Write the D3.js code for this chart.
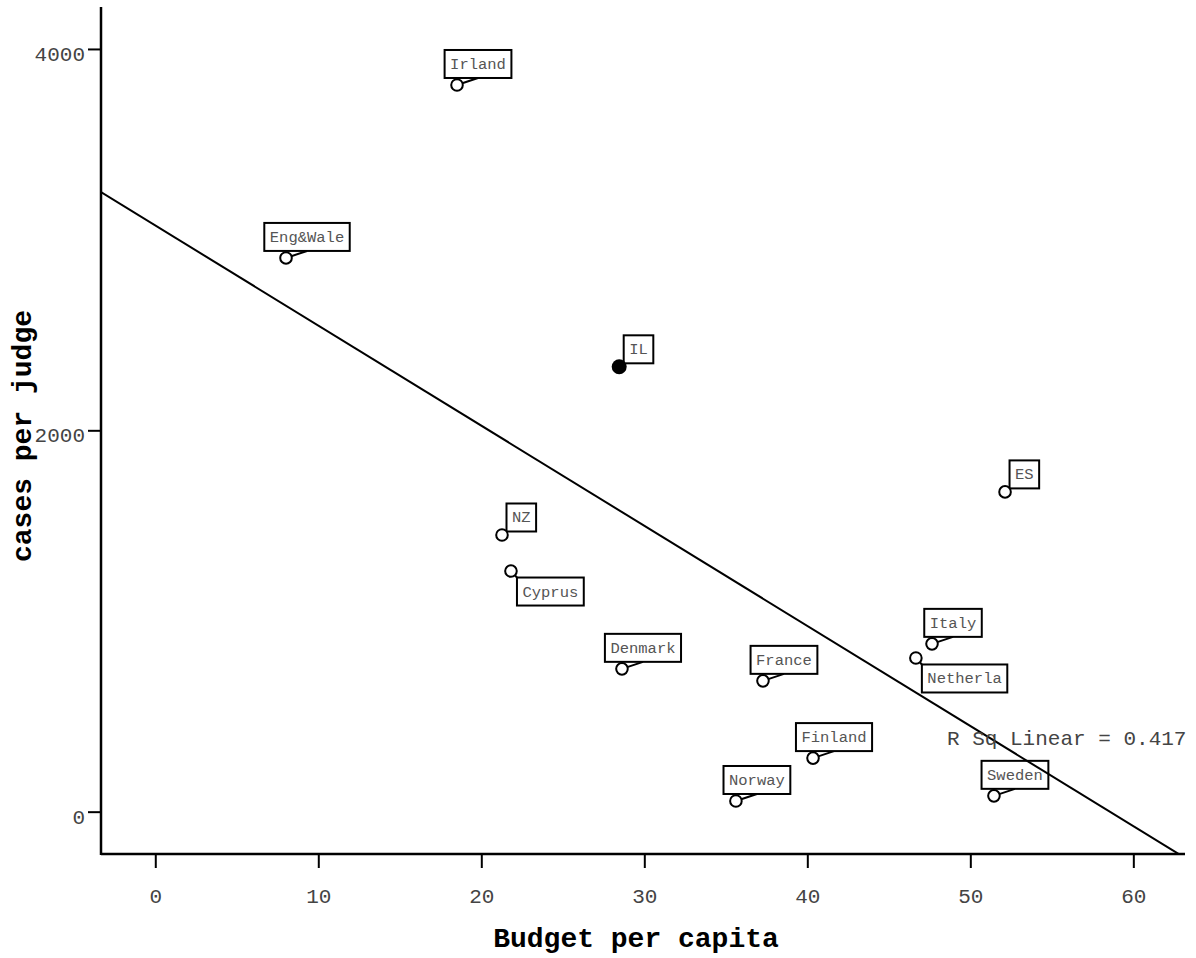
<!DOCTYPE html>
<html>
<head>
<meta charset="utf-8">
<script src="https://cdn.jsdelivr.net/npm/d3@7"></script>
<style>
  html, body { margin: 0; padding: 0; background: #fff; }
  svg { display: block; }
</style>
</head>
<body>
<svg id="chart" width="1196" height="958"></svg>
<script>
// ---- data ----
const countries = ["Irland", "Eng&Wale", "IL", "ES", "NZ", "Cyprus", "Denmark", "France", "Italy", "Netherla", "Finland", "Norway", "Sweden"];
const budgetPerCapita = [18.51, 8.02, 28.46, 52.13, 21.27, 21.82, 28.63, 37.28, 47.65, 46.66, 40.35, 35.62, 51.45];
const casesPerJudge = [3811, 2904, 2333, 1677, 1451, 1262, 749, 686, 880, 806, 281, 56, 83];
const highlighted = ["IL"];
const xTicks = [0, 10, 20, 30, 40, 50, 60];
const yTicks = [0, 2000, 4000];
const xTitle = "Budget per capita";
const yTitle = "cases per judge";
const rSqText = "R Sq Linear = 0.417";

// label placement (layout only)
const labelPlacement = {
  "Irland": "top", "Eng&Wale": "top", "IL": "upright", "ES": "upright", "NZ": "upright",
  "Cyprus": "downright", "Denmark": "top", "France": "top", "Italy": "top",
  "Netherla": "downright", "Finland": "top", "Norway": "top", "Sweden": "top"
};

const svg = d3.select("#chart");
const plotL = 101, plotR = 1185, plotT = 7, plotB = 854;

const x = d3.scaleLinear().domain([-3.33, 63.17]).range([plotL, plotR]);
const y = d3.scaleLinear().domain([-222, 4220]).range([plotB, plotT]);

const mono = "'Liberation Mono', 'Courier New', monospace";

// clip
svg.append("defs").append("clipPath").attr("id", "plotclip")
  .append("rect").attr("x", plotL).attr("y", plotT).attr("width", plotR - plotL).attr("height", plotB - plotT);

// axes
const xAxis = svg.append("g").attr("transform", `translate(0,${plotB})`)
  .call(d3.axisBottom(x).tickValues(xTicks).tickSize(14).tickSizeOuter(0).tickPadding(20).tickFormat(d3.format("d")));
const yAxis = svg.append("g").attr("transform", `translate(${plotL},0)`)
  .call(d3.axisLeft(y).tickValues(yTicks).tickSize(13).tickSizeOuter(0).tickPadding(3).tickFormat(d3.format("d")));

[xAxis, yAxis].forEach(g => {
  g.select(".domain").remove();
  g.selectAll(".tick line").attr("stroke", "#000").attr("stroke-width", 2);
  g.selectAll(".tick text").attr("font-family", mono).attr("font-size", 21).attr("fill", "#444");
});
yAxis.selectAll(".tick text").attr("dy", "0.55em");

svg.append("line").attr("x1", plotL).attr("x2", plotR).attr("y1", plotB).attr("y2", plotB)
  .attr("stroke", "#000").attr("stroke-width", 2.5);
svg.append("line").attr("x1", plotL).attr("x2", plotL).attr("y1", plotT).attr("y2", plotB + 1)
  .attr("stroke", "#000").attr("stroke-width", 2.5);

// axis titles
svg.append("text").attr("x", 636).attr("y", 947).attr("text-anchor", "middle")
  .attr("font-family", mono).attr("font-weight", "bold").attr("font-size", 28).attr("fill", "#000")
  .text(xTitle);
svg.append("text").attr("transform", "translate(31,436) rotate(-90)").attr("text-anchor", "middle")
  .attr("font-family", mono).attr("font-weight", "bold").attr("font-size", 28).attr("fill", "#000")
  .text(yTitle);

// points data
const pts = countries.map((c, i) => ({ name: c, bx: budgetPerCapita[i], cy: casesPerJudge[i] }));

// OLS fit
const mx = d3.mean(pts, d => d.bx), my = d3.mean(pts, d => d.cy);
const sxy = d3.sum(pts, d => (d.bx - mx) * (d.cy - my));
const sxx = d3.sum(pts, d => (d.bx - mx) ** 2);
const slope = sxy / sxx, intercept = my - slope * mx;

// labels
const labG = svg.append("g");
pts.forEach(d => {
  const px = x(d.bx), py = y(d.cy);
  const g = labG.append("g");
  const conn = g.append("line").attr("stroke", "#000").attr("stroke-width", 2);
  const rect = g.append("rect").attr("fill", "#fff").attr("stroke", "#000").attr("stroke-width", 2);
  const t = g.append("text").attr("font-family", mono).attr("font-size", 15.5).attr("fill", "#555")
    .attr("text-anchor", "middle").text(d.name);
  const w = t.node().getComputedTextLength() + 11;
  const h = 28;
  let bx0, by0, ax, ay;
  const pl = labelPlacement[d.name];
  if (pl === "top") {
    bx0 = px + 21 - w / 2; by0 = py - 7 - h; ax = px + 21; ay = py - 7;
  } else if (pl === "upright") {
    bx0 = px + 4.5; by0 = py - 3.5 - h; ax = bx0; ay = by0 + h;
  } else {
    bx0 = px + 6; by0 = py + 6.5; ax = bx0; ay = by0;
  }
  rect.attr("x", bx0).attr("y", by0).attr("width", w).attr("height", h);
  t.attr("x", bx0 + w / 2).attr("y", by0 + h / 2 + 5);
  conn.attr("x1", px).attr("y1", py).attr("x2", ax).attr("y2", ay);
});

// points
svg.append("g").selectAll("circle").data(pts).join("circle")
  .attr("cx", d => x(d.bx)).attr("cy", d => y(d.cy))
  .attr("r", d => highlighted.includes(d.name) ? 7.5 : 5.8)
  .attr("fill", d => highlighted.includes(d.name) ? "#000" : "#fff")
  .attr("stroke", "#000").attr("stroke-width", d => highlighted.includes(d.name) ? 0 : 2);

// fit line
const xd = x.domain();
svg.append("line").attr("clip-path", "url(#plotclip)")
  .attr("x1", x(xd[0])).attr("y1", y(intercept + slope * xd[0]))
  .attr("x2", x(xd[1])).attr("y2", y(intercept + slope * xd[1]))
  .attr("stroke", "#000").attr("stroke-width", 2);

// R sq text
svg.append("text").attr("x", 947).attr("y", 745).attr("font-family", mono).attr("font-size", 21)
  .attr("fill", "#444").text(rSqText);
</script>
</body>
</html>
